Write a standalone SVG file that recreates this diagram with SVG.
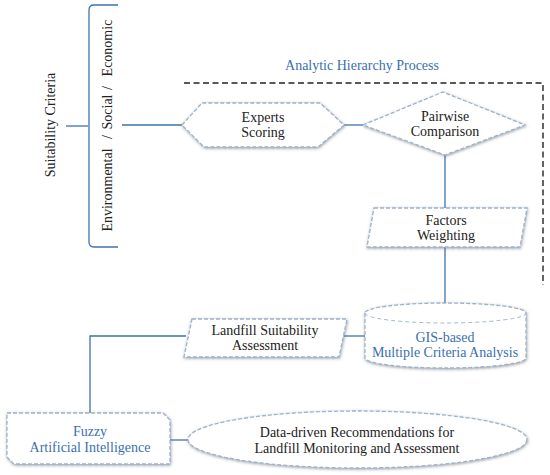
<svg xmlns="http://www.w3.org/2000/svg" width="550" height="475" viewBox="0 0 550 475">
<defs>
<filter id="sh" x="-10%" y="-20%" width="120%" height="140%">
<feDropShadow dx="0.5" dy="1" stdDeviation="1.5" flood-color="#5f6873" flood-opacity="0.65"/>
</filter>
<style>
.node{fill:#ffffff;stroke:#9fb3c9;stroke-width:1.3;stroke-dasharray:4 2;filter:url(#sh)}
.inner{fill:none;stroke:#9fb8d6;stroke-width:1;stroke-dasharray:4 3}
.con{fill:none;stroke:#3f72b0;stroke-width:1.3}
.brk{fill:none;stroke:#3f72b0;stroke-width:1.3}
.frame{fill:none;stroke:#222222;stroke-width:1.4;stroke-dasharray:6 3.5}
text{font-family:"Liberation Serif","Times New Roman","DejaVu Serif",serif;font-size:14px;fill:#222222;text-anchor:middle}
.blue{fill:#3a6fb0}
</style>
</defs>

<g id="connectors">
<path class="con" d="M66,126 H88"/>
<path class="con" d="M122,125 H182"/>
<path class="con" d="M344,125 H363"/>
<path class="con" d="M445,155 V208"/>
<path class="con" d="M445,247 V303"/>
<path class="con" d="M342,336 H365"/>
<path class="con" d="M186,336 H90 V413"/>
<path class="con" d="M170,440 H188"/>
</g>

<g id="ahp-frame">
<path class="frame" d="M184,83 H543 V285"/>
<text class="blue" x="362" y="70">Analytic Hierarchy Process</text>
</g>

<g id="suitability-criteria">
<text transform="translate(50,125) rotate(-90)" x="0" y="5">Suitability Criteria</text>
</g>

<g id="criteria-bracket">
<path class="brk" d="M118,5 H94 Q89,5 89,10 V242 Q89,247 94,247 H118"/>
<g transform="translate(107,126) rotate(-90)">
<text x="-64" y="5">Environmental</text>
<text x="-11" y="5">/</text>
<text x="14" y="5">Social</text>
<text x="38" y="5">/</text>
<text x="78" y="5">Economic</text>
</g>
</g>

<g id="experts-scoring">
<polygon class="node" points="182,125 202,103 320,103 344,125 318,147 204,147"/>
<text x="263" y="122">Experts</text>
<text x="263" y="137">Scoring</text>
</g>

<g id="pairwise-comparison">
<polygon class="node" points="363,125 443,92 525,125 445,155"/>
<text x="445" y="121">Pairwise</text>
<text x="445" y="136">Comparison</text>
</g>

<g id="factors-weighting">
<polygon class="node" points="374,208 527,208 520,247 367,247"/>
<text x="446" y="225">Factors</text>
<text x="446" y="240">Weighting</text>
</g>

<g id="gis-mca">
<path class="node" d="M365,313 V358 A80.5,10 0 0 0 526,358 V313 A80.5,10 0 0 0 365,313 Z"/>
<path class="inner" d="M365,313 A80.5,10 0 0 0 526,313"/>
<text class="blue" x="445" y="342">GIS-based</text>
<text class="blue" x="445" y="357">Multiple Criteria Analysis</text>
</g>

<g id="landfill-suitability">
<polygon class="node" points="192,319 347,319 339,357 184,357"/>
<text x="265" y="335">Landfill Suitability</text>
<text x="265" y="350">Assessment</text>
</g>

<g id="fuzzy-ai">
<path class="node" d="M7,413 H163 L170,420 V464 H14 L7,457 Z"/>
<text class="blue" x="90" y="436">Fuzzy</text>
<text class="blue" x="90" y="452">Artificial Intelligence</text>
</g>

<g id="recommendations">
<ellipse class="node" cx="357.5" cy="439.5" rx="169.5" ry="28.5"/>
<text x="357" y="437">Data-driven Recommendations for</text>
<text x="357" y="453">Landfill Monitoring and Assessment</text>
</g>
</svg>
